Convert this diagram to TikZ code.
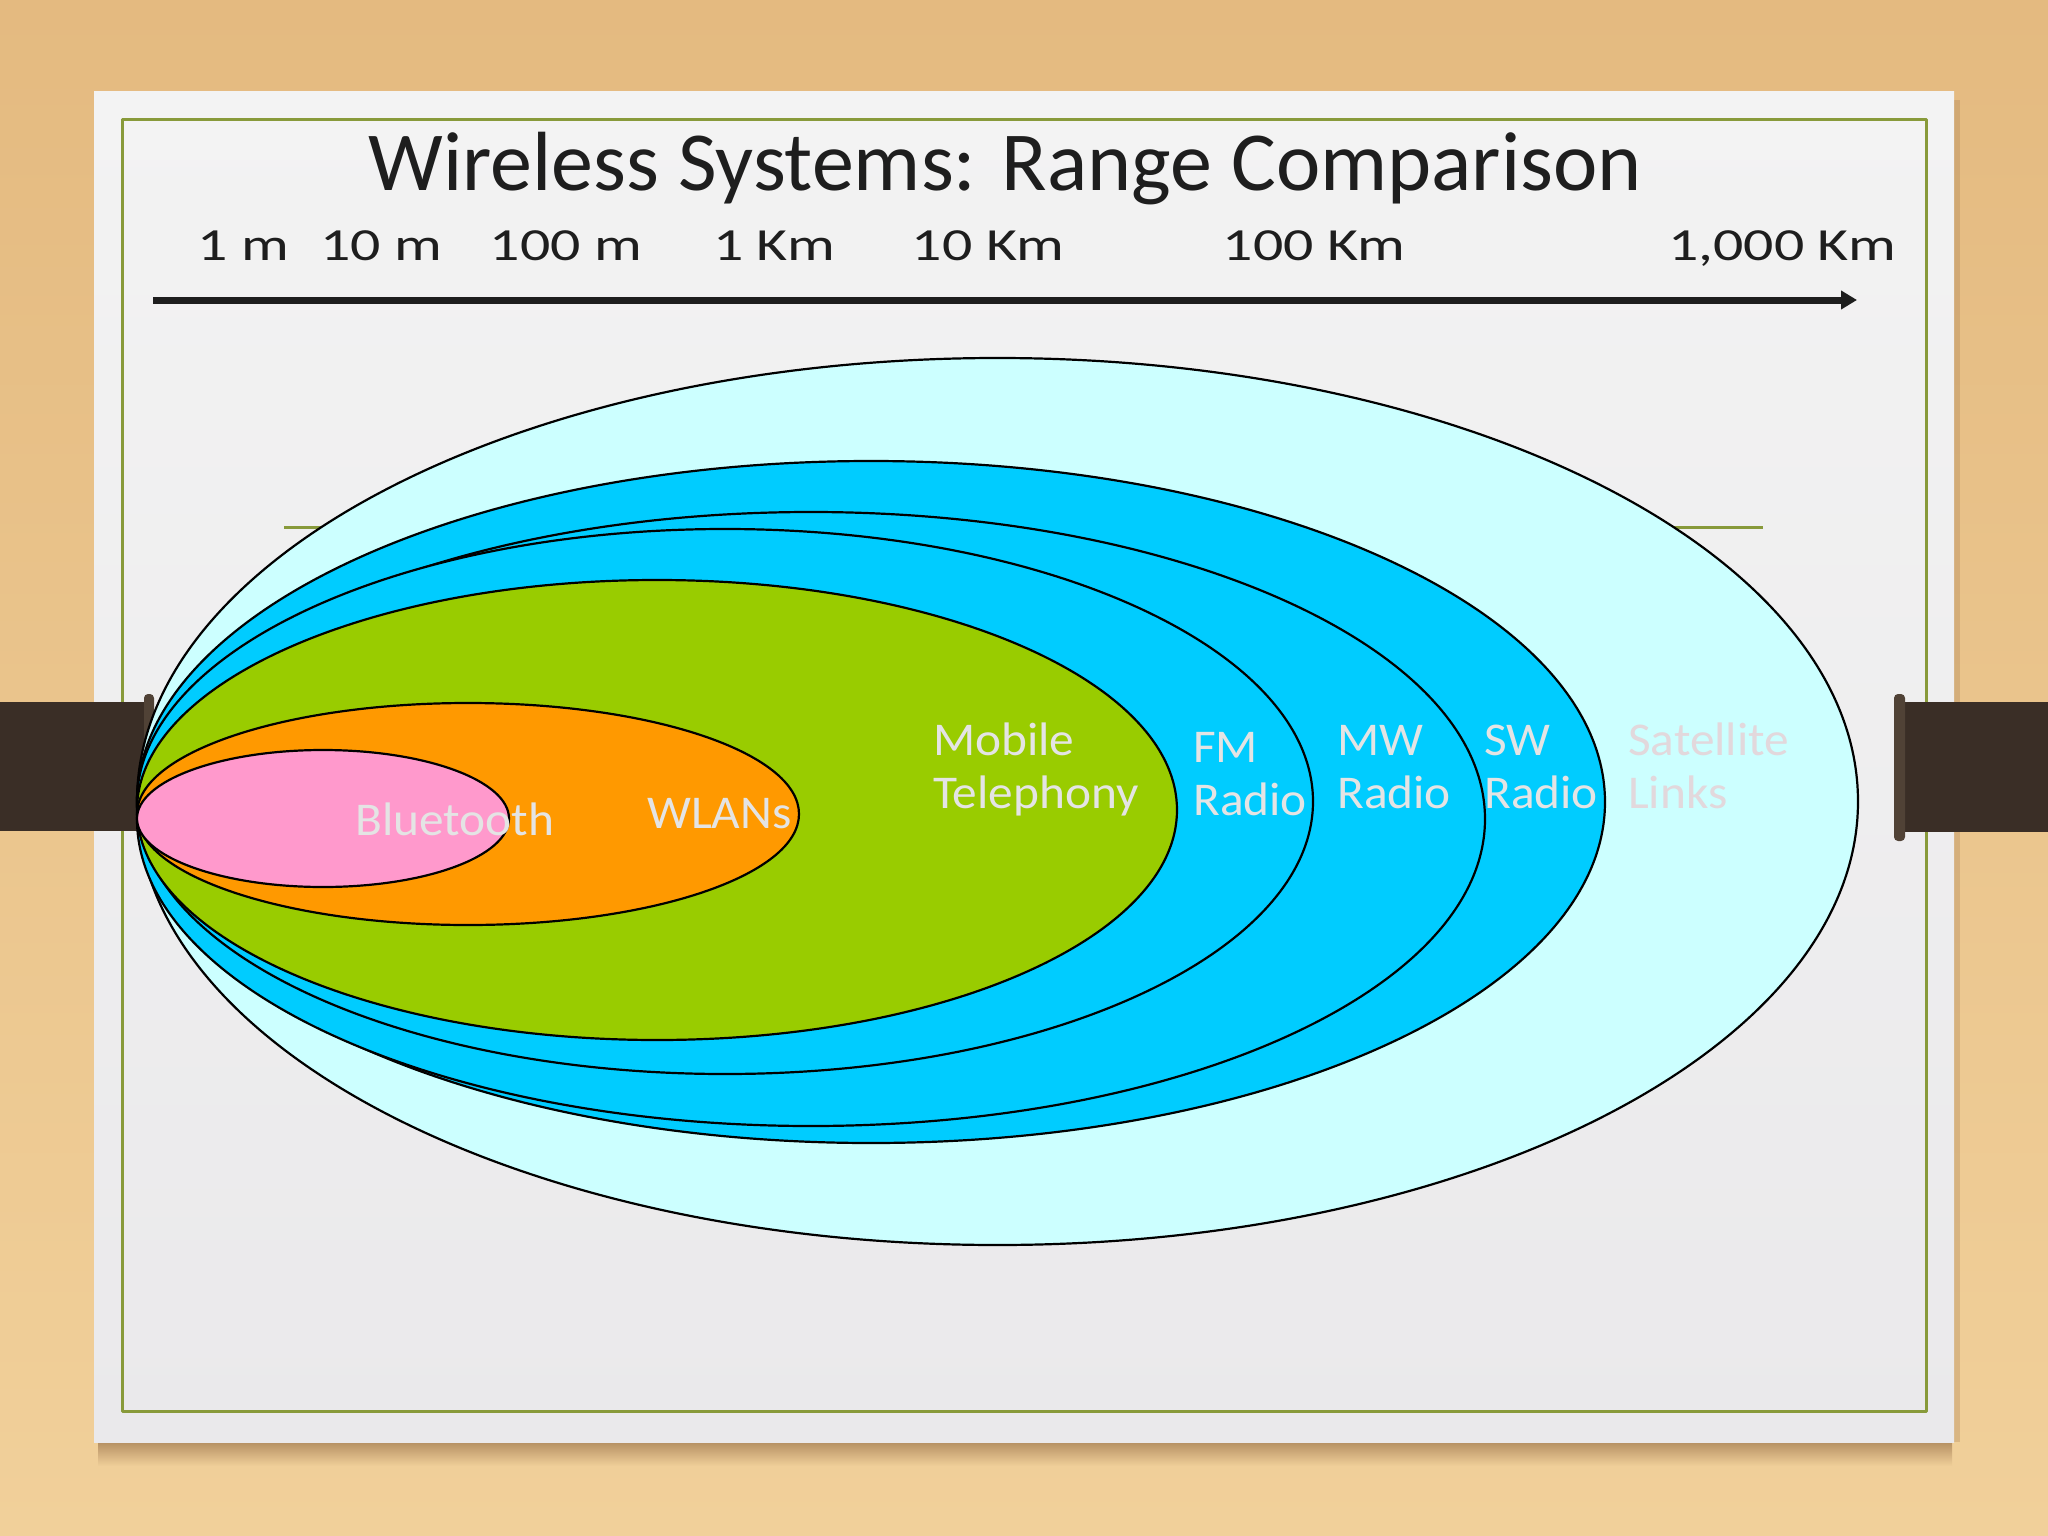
\documentclass[tikz,border=0pt]{standalone}
\usepackage{fontspec}
\setmainfont{Carlito}
\newfontfamily\handScale[FakeStretch=1.3]{Carlito}
\newfontfamily\handLabel[FakeStretch=1.05]{Carlito}
\usetikzlibrary{arrows.meta}
\definecolor{woodtop}{RGB}{228,186,128}
\definecolor{woodbot}{RGB}{241,208,154}
\definecolor{woodshadow}{RGB}{150,110,70}
\definecolor{papertop}{RGB}{243,243,243}
\definecolor{paperbot}{RGB}{234,233,235}
\definecolor{olive}{RGB}{136,154,58}
\definecolor{clipbrown}{RGB}{58,46,38}
\definecolor{clipedge}{RGB}{80,66,54}
\definecolor{inkblack}{RGB}{30,30,30}
\definecolor{btpink}{HTML}{FF99CC}
\definecolor{wlorange}{HTML}{FF9900}
\definecolor{mobgreen}{HTML}{99CC00}
\definecolor{radioblue}{HTML}{00CCFF}
\definecolor{satcyan}{HTML}{CCFFFF}
\definecolor{labelgray}{RGB}{228,228,228}
\definecolor{satlabel}{RGB}{226,216,220}
\newcommand\mytitlefont{\fontsize{84}{100}\selectfont}
\newcommand\myscalefont{\handScale\fontsize{46}{52}\selectfont}
\newcommand\mylabelfont{\handLabel\fontsize{47}{53}\selectfont}
\begin{document}
\begin{tikzpicture}[x=1pt,y=-1pt,line join=round,
  zone/.style={draw=black,line width=2.2pt},
  lbl/.style={text=labelgray,font=\mylabelfont,inner sep=0pt,anchor=base west,align=left},
  scalelbl/.style={text=inkblack,font=\myscalefont,inner sep=0pt,anchor=base},
  clipbar/.style={fill=clipbrown,draw=none},
  clipknob/.style={fill=clipedge,draw=none,rounded corners=4pt}]
% background wood
\useasboundingbox (0,0) rectangle (2048,1536);
\shade[top color=woodtop,bottom color=woodbot] (0,0) rectangle (2048,1536);
% shadow under the paper
\shade[top color=woodshadow,bottom color=woodbot,opacity=0.7] (98,1440) rectangle (1952,1466);
\fill[woodshadow,opacity=0.25] (1954,100) rectangle (1960,1442);
% paper
\shade[top color=papertop,bottom color=paperbot] (94,92) rectangle (1954,1442);
% green frame
\draw[olive,line width=3pt] (122,120) rectangle (1926,1411);
% thin olive line behind the diagram
\draw[olive,line width=3pt] (284,527) -- (1763,527);
% clips
\fill[clipbar] (0,702) rectangle (152,831);
\fill[clipknob] (144,694) rectangle (154,839);
\fill[clipbar] (1900,702) rectangle (2048,832);
\fill[clipknob] (1894,694) rectangle (1905,841);
% title
\node[text=inkblack,font=\mytitlefont,inner sep=0pt,anchor=base] (title) at (1005,190) {Wireless Systems: Range Comparison};
% scale labels
\node[scalelbl] (s1) at (243,260) {1 m};
\node[scalelbl] (s2) at (381,260) {10 m};
\node[scalelbl] (s3) at (566,260) {100 m};
\node[scalelbl] (s4) at (774,260) {1 Km};
\node[scalelbl] (s5) at (988,260) {10 Km};
\node[scalelbl] (s6) at (1314,260) {100 Km};
\node[scalelbl] (s7) at (1782,260) {1,000 Km};
% axis arrow
\coordinate (axisL) at (153,300);
\coordinate (axisR) at (1857,300);
\draw[inkblack,line width=7pt,-{Triangle[length=16pt,width=18pt]}] (axisL) -- (axisR);
% range ellipses
\draw[zone,fill=satcyan] (997.5,801.5) ellipse [x radius=860.5,y radius=443.5];
\draw[zone,fill=radioblue] (871,802) ellipse [x radius=734,y radius=341];
\draw[zone,fill=radioblue] (811,819) ellipse [x radius=674,y radius=307];
\draw[zone,fill=radioblue] (725,801.5) ellipse [x radius=588,y radius=272.5];
\draw[zone,fill=mobgreen] (657,810) ellipse [x radius=520,y radius=230];
\draw[zone,fill=wlorange] (468,814) ellipse [x radius=331,y radius=111];
\draw[zone,fill=btpink] (323,818.5) ellipse [x radius=186,y radius=68.5];
% labels (anchor = baseline of the last line)
\node[lbl] (bt) at (355,835) {Bluetooth};
\node[lbl] (wlan) at (647,828) {WLANs};
\node[lbl] (mob) at (933,808) {Mobile\\Telephony};
\node[lbl] (fm) at (1193,815) {FM\\Radio};
\node[lbl] (mw) at (1337,808) {MW\\Radio};
\node[lbl] (sw) at (1484,808) {SW\\Radio};
\node[lbl,text=satlabel] (sat) at (1628,808) {Satellite\\Links};
\end{tikzpicture}
\end{document}
